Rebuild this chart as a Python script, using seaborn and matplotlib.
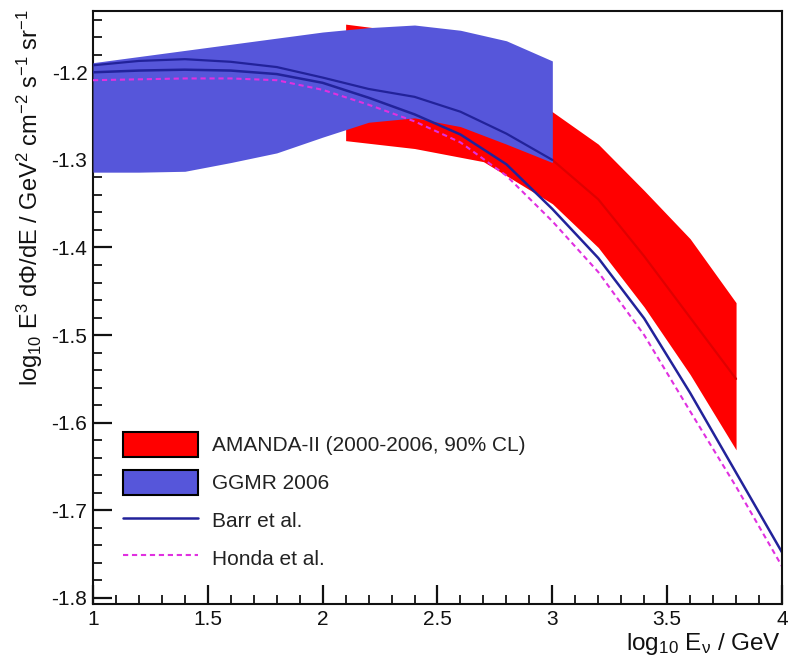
import numpy as np
import pandas as pd
import matplotlib
matplotlib.use("Agg")
import matplotlib.pyplot as plt
import seaborn as sns
from matplotlib.patches import Patch
from matplotlib.lines import Line2D

# ---------------- data ----------------
# AMANDA-II unfolded band (90% CL)
amanda_x = [2.1, 2.4, 2.7, 3.0, 3.2, 3.4, 3.6, 3.8]
amanda_hi = [-1.145, -1.155, -1.190, -1.245, -1.282, -1.335, -1.390, -1.463]
amanda_lo = [-1.278, -1.287, -1.302, -1.350, -1.400, -1.468, -1.545, -1.631]
amanda_mid = [-1.210, -1.222, -1.255, -1.300, -1.345, -1.410, -1.480, -1.550]

# GGMR 2006 band
ggmr_x = [1.0, 1.2, 1.4, 1.6, 1.8, 2.0, 2.2, 2.4, 2.6, 2.8, 3.0]
ggmr_hi = [-1.189, -1.182, -1.175, -1.168, -1.161, -1.154, -1.149, -1.146, -1.152, -1.164, -1.187]
ggmr_lo = [-1.314, -1.314, -1.313, -1.303, -1.292, -1.274, -1.257, -1.252, -1.262, -1.282, -1.303]
ggmr_mid = [-1.192, -1.187, -1.185, -1.188, -1.194, -1.206, -1.219, -1.228, -1.245, -1.270, -1.300]

# model predictions
model_x = [1.0, 1.2, 1.4, 1.6, 1.8, 2.0, 2.2, 2.4, 2.6, 2.8, 3.0, 3.2, 3.4, 3.6, 3.8, 4.0]
barr_y = [-1.200, -1.198, -1.197, -1.198, -1.202, -1.212, -1.229, -1.248, -1.271, -1.305,
          -1.356, -1.412, -1.481, -1.566, -1.657, -1.748]
honda_y = [-1.209, -1.208, -1.207, -1.207, -1.209, -1.220, -1.237, -1.256, -1.280, -1.318,
           -1.370, -1.428, -1.500, -1.587, -1.673, -1.764]

legend_labels = ["AMANDA-II (2000-2006, 90% CL)", "GGMR 2006", "Barr et al.", "Honda et al."]
x_ticks = [1, 1.5, 2, 2.5, 3, 3.5, 4]
x_tick_labels = ["1", "1.5", "2", "2.5", "3", "3.5", "4"]
y_ticks = [-1.8, -1.7, -1.6, -1.5, -1.4, -1.3, -1.2]
y_tick_labels = ["-1.8", "-1.7", "-1.6", "-1.5", "-1.4", "-1.3", "-1.2"]

# ---------------- style ----------------
sns.set_style("ticks")
plt.rcParams["font.family"] = ["Liberation Sans", "DejaVu Sans"]
plt.rcParams["axes.unicode_minus"] = False
plt.rcParams["mathtext.fontset"] = "custom"
plt.rcParams["mathtext.rm"] = "Liberation Sans"
plt.rcParams["mathtext.it"] = "Liberation Sans:italic"
plt.rcParams["mathtext.default"] = "rm"

RED = "#ff0000"
RED_DARK = "#e00000"
BLUE = "#5656da"
NAVY = "#22229a"
MAGENTA = "#e030e0"

W, H = 789, 661
fig = plt.figure(figsize=(W / 100, H / 100), dpi=100)
ax = fig.add_axes([93 / W, 1 - 604 / H, (782 - 93) / W, (604 - 11) / H])

# bands
ax.fill_between(amanda_x, amanda_lo, amanda_hi, color=RED, linewidth=0, zorder=1)
am = pd.DataFrame({"x": amanda_x, "y": amanda_mid})
sns.lineplot(data=am, x="x", y="y", ax=ax, color=RED_DARK, linewidth=1.6,
             estimator=None, sort=False, legend=False, zorder=1.1)
ax.fill_between(ggmr_x, ggmr_lo, ggmr_hi, color=BLUE, linewidth=0, zorder=1.2)
gm = pd.DataFrame({"x": ggmr_x, "y": ggmr_mid})
sns.lineplot(data=gm, x="x", y="y", ax=ax, color=NAVY, linewidth=1.6,
             estimator=None, sort=False, legend=False, zorder=1.3)

# model lines
df_barr = pd.DataFrame({"x": model_x, "y": barr_y})
df_honda = pd.DataFrame({"x": model_x, "y": honda_y})
sns.lineplot(data=df_barr, x="x", y="y", ax=ax, color=NAVY, linewidth=1.8,
             estimator=None, sort=False, legend=False, zorder=3)
sns.lineplot(data=df_honda, x="x", y="y", ax=ax, color=MAGENTA, linewidth=1.5,
             linestyle=(0, (2.5, 1.8)), estimator=None, sort=False, legend=False, zorder=3)

# axes
ax.set_xlim(1, 4)
ax.set_ylim(-1.807, -1.130)
ax.set_xticks(x_ticks)
ax.set_xticklabels(x_tick_labels)
ax.set_yticks(y_ticks)
ax.set_yticklabels(y_tick_labels)
ax.set_xticks(np.arange(1.0, 4.001, 0.1), minor=True)
ax.set_yticks(np.arange(-1.80, -1.13, 0.02), minor=True)
ax.tick_params(axis="both", which="major", direction="in", length=14, width=1.6,
               labelsize=15, colors="#111111")
ax.tick_params(axis="both", which="minor", direction="in", length=6.5, width=1.4)
ax.tick_params(axis="y", which="major", pad=4)
ax.tick_params(axis="x", which="major", pad=4)
ax.tick_params(top=False, right=False, which="both")
ax.set_axisbelow(True)
for s in ax.spines.values():
    s.set_visible(True)
    s.set_linewidth(1.5)
    s.set_color("#111111")
    s.set_zorder(0.6)
ax.spines["top"].set_zorder(4)
ax.spines["right"].set_zorder(4)
ax.spines["bottom"].set_zorder(4)
ax.set_xlabel("")
ax.set_ylabel("")

# axis titles
fig.text(30 / W, 1 - 9 / H,
         r"log$_{10}$ E$^{3}$ dΦ/dE / GeV$^{2}$ cm$^{-2}$ s$^{-1}$ sr$^{-1}$",
         rotation=90, ha="center", va="top", fontsize=17, color="#111111")
fig.text(781 / W, 1 - 650 / H, r"log$_{10}$ E$_{ν}$ / GeV",
         ha="right", va="baseline", fontsize=17.5, color="#111111")

# legend
handles = [
    Patch(facecolor=RED, edgecolor="black", linewidth=1.5),
    Patch(facecolor=BLUE, edgecolor="black", linewidth=1.5),
    Line2D([], [], color=NAVY, linewidth=1.8),
    Line2D([], [], color=MAGENTA, linewidth=1.5, linestyle=(0, (2.5, 1.8))),
]
leg = ax.legend(handles, legend_labels, loc="upper left",
                bbox_to_anchor=((123 - 93) / 689, (604 - 432) / 593),
                frameon=False, fontsize=15, handlelength=3.6, handleheight=1.47,
                labelspacing=0.62, handletextpad=0.65, borderpad=0, borderaxespad=0)
for t in leg.get_texts():
    t.set_color("#222222")

fig.savefig("out.png", dpi=100)
